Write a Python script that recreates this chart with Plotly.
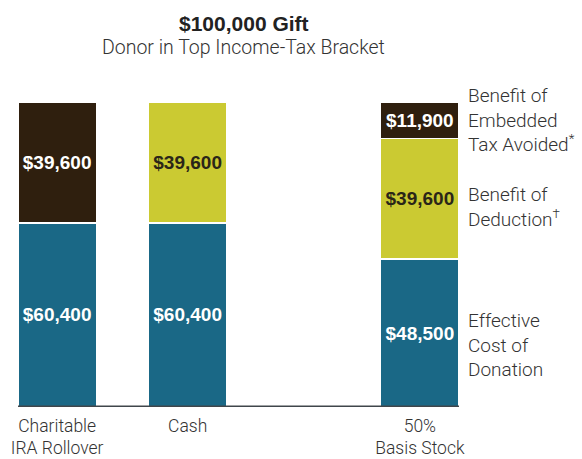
import plotly.graph_objects as go

categories = ["Charitable<br>IRA Rollover", "Cash", "50%<br>Basis Stock"]
x_pos = [0, 1, 2.78]
effective_cost = [60400, 60400, 48500]
benefit_deduction = [None, 39600, 39600]
benefit_embedded = [39600, None, 11900]

BLUE = "#1a6886"
YELLOW = "#cbca32"
DARK = "#2f1f0e"

def fmt(vals):
    return [f"${v:,.0f}" if v else "" for v in vals]

fig = go.Figure()
for vals, color, tcolor in [
    (effective_cost, BLUE, "white"),
    (benefit_deduction, YELLOW, "#2a2618"),
    (benefit_embedded, DARK, "white"),
]:
    fig.add_trace(go.Bar(
        x=x_pos, y=vals, width=0.6,
        marker=dict(color=color, line=dict(color="white", width=1.5)),
        text=fmt(vals), textposition="inside", insidetextanchor="middle",
        textangle=0,
        textfont=dict(family="Arial", size=19, color=tcolor, weight="bold"),
        hoverinfo="skip",
    ))

fig.add_shape(type="line", xref="x", yref="y", x0=-0.3, x1=3.08, y0=0, y1=0,
              line=dict(color="#40464b", width=3))

label_font = dict(family="Roboto", size=19, color="#333333", weight=300)
right_labels = [
    ("Benefit of<br>Embedded<br>Tax Avoided<sup>*</sup>", 94100),
    ("Benefit of<br>Deduction<sup>†</sup>", 65600),
    ("Effective<br>Cost of<br>Donation", 20300),
]
for txt, yv in right_labels:
    fig.add_annotation(text=txt, xref="paper", yref="y", x=1.0, xshift=7, y=yv,
                       xanchor="left", yanchor="middle", align="left",
                       showarrow=False, font=label_font)

fig.add_annotation(text="<b>$100,000 Gift</b>", xref="paper", yref="paper",
                   x=0.512, y=1.0, yshift=79, xanchor="center", yanchor="middle",
                   showarrow=False, font=dict(family="Arial", size=21, color="#222222"))
fig.add_annotation(text="Donor in Top Income-Tax Bracket", xref="paper", yref="paper",
                   x=0.512, y=1.0, yshift=55, xanchor="center", yanchor="middle",
                   showarrow=False, font=dict(family="Roboto", size=19.5, color="#333333", weight=300))

fig.update_layout(
    barmode="stack",
    width=582, height=459,
    margin=dict(l=18, r=123, t=102, b=52, autoexpand=False),
    paper_bgcolor="white", plot_bgcolor="white",
    showlegend=False,
    uniformtext=dict(mode=False),
    xaxis=dict(range=[-0.3, 3.08], tickvals=x_pos, ticktext=categories,
               showgrid=False, zeroline=False, showline=False, ticks="",
               automargin=False, ticklabelstandoff=6,
               tickfont=dict(family="Roboto", size=17.5, color="#333333", weight=300),
               fixedrange=True),
    yaxis=dict(range=[0, 100000], visible=False, showgrid=False, fixedrange=True,
               automargin=False),
)

fig.write_html("out.html", config={"displayModeBar": False})
